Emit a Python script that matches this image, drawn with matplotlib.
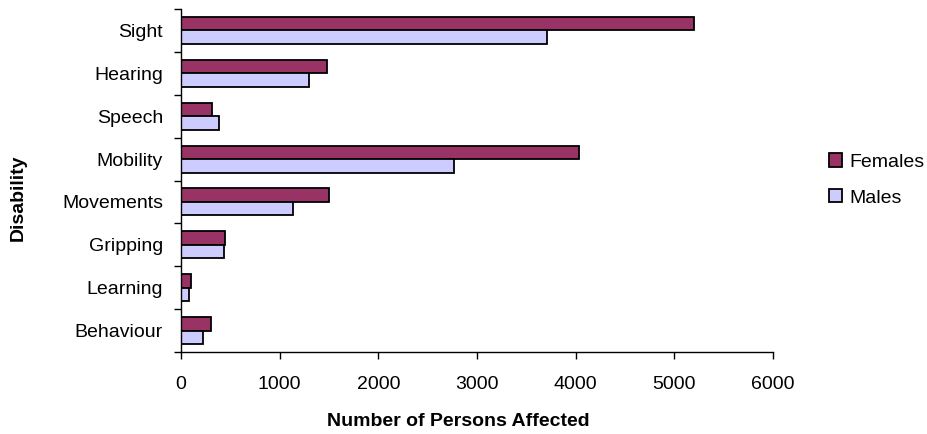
import matplotlib
matplotlib.use('Agg')
import matplotlib.pyplot as plt
import numpy as np

plt.rcParams['font.family'] = ['Liberation Sans', 'DejaVu Sans']
plt.rcParams['font.size'] = 14

# data
disabilities = ['Sight', 'Hearing', 'Speech', 'Mobility', 'Movements',
                'Gripping', 'Learning', 'Behaviour']
females = [5200, 1480, 310, 4030, 1500, 450, 100, 300]
males = [3710, 1300, 390, 2770, 1140, 440, 80, 220]
x_ticks = [0, 1000, 2000, 3000, 4000, 5000, 6000]

col_f = '#993366'
col_m = '#CCCCFF'

fig = plt.figure(figsize=(9.28, 4.34), dpi=100)
ax = fig.add_axes([181 / 928, 1 - 352 / 434, (773 - 181) / 928, (352 - 9) / 434])

y = np.arange(len(disabilities))
h = 0.316
ax.barh(y - h / 2, females, height=h, color=col_f, edgecolor='black',
        linewidth=1.3, label='Females')
ax.barh(y + h / 2, males, height=h, color=col_m, edgecolor='black',
        linewidth=1.3, label='Males')

ax.set_ylim(len(disabilities) - 0.5, -0.5)
ax.set_xlim(0, 6000)
ax.set_xticks(x_ticks)
ax.set_yticks(y)
ax.set_yticklabels(disabilities)
ax.set_yticks(np.arange(len(disabilities) + 1) - 0.5, minor=True)
ax.tick_params(axis='y', which='major', length=0, pad=13)
ax.tick_params(axis='y', which='minor', length=5, width=1, direction='out')
ax.tick_params(axis='x', length=5, width=1, direction='out', pad=12)

for s in ['top', 'right']:
    ax.spines[s].set_visible(False)
for s in ['left', 'bottom']:
    ax.spines[s].set_linewidth(1)

ax.set_xlabel('Number of Persons Affected', fontweight='bold', fontsize=14)
ax.xaxis.set_label_coords((458 - 181) / 592, -(421 - 352) / 343)
ax.xaxis.label.set_va('center')
ax.set_ylabel('Disability', fontweight='bold', fontsize=14)
ax.yaxis.set_label_coords((18 - 181) / 592, (352 - 198) / 343)
ax.yaxis.label.set_va('center')

fig.legend(loc='center left', bbox_to_anchor=(829 / 928, 1 - 180 / 434),
           frameon=False, borderpad=0, borderaxespad=0,
           handlelength=0.67, handleheight=0.67,
           handletextpad=0.36, labelspacing=0.95, fontsize=14)

fig.savefig('out.png', dpi=100)
